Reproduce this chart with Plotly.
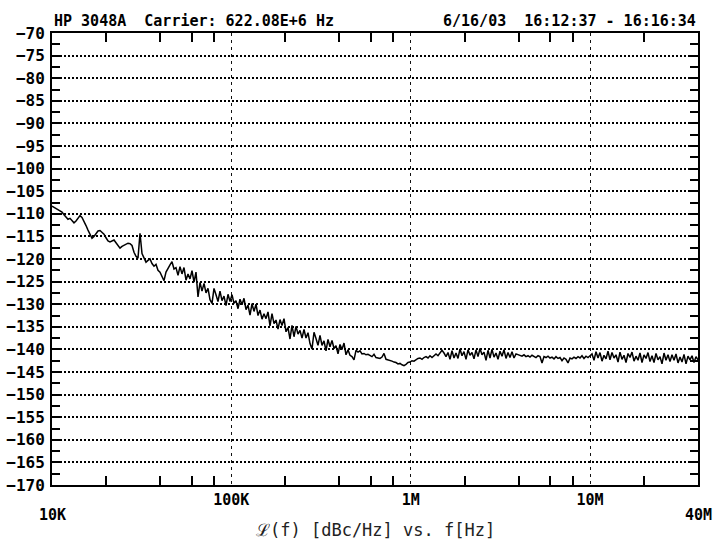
import numpy as np
import plotly.graph_objects as go

# Phase noise L(f) in dBc/Hz, log-spaced offsets 10 kHz .. 40 MHz
f_start_hz = 1e4
f_stop_hz = 4e7
noise_dbc = [
    -108.3, -108.6, -108.9, -109.0, -109.3, -109.6, -110.2, -110.8, -111.2, -111.0,
    -111.5, -112.0, -111.6, -111.0, -110.4, -110.8, -111.6, -112.6, -113.6, -114.4,
    -115.4, -115.0, -114.4, -113.8, -113.7, -114.0, -114.5, -115.3, -116.0, -116.2,
    -116.0, -115.8, -116.4, -117.1, -117.6, -117.2, -116.9, -116.7, -116.5, -116.6,
    -117.0, -118.5, -119.4, -119.8, -114.3, -118.8, -119.8, -120.7, -120.3, -120.0,
    -121.0, -121.6, -121.2, -122.5, -122.9, -124.0, -124.8, -122.9, -122.0, -121.3,
    -120.6, -122.2, -121.9, -123.6, -121.7, -123.3, -121.9, -124.7, -123.3, -124.4,
    -122.6, -125.1, -122.9, -128.4, -125.2, -127.1, -125.4, -127.5, -126.5, -129.0,
    -129.8, -126.5, -127.9, -129.4, -127.1, -129.2, -128.2, -130.3, -127.8, -129.4,
    -127.9, -129.8, -129.2, -131.0, -128.9, -130.1, -128.7, -131.2, -130.2, -132.4,
    -129.9, -131.6, -130.0, -132.5, -131.3, -133.3, -132.1, -133.2, -131.7, -134.8,
    -132.1, -134.3, -133.5, -135.5, -133.4, -134.7, -133.2, -136.1, -135.2, -137.7,
    -134.7, -137.2, -134.9, -136.6, -135.8, -137.5, -135.6, -137.5, -136.3, -138.7,
    -139.9, -136.2, -137.6, -139.1, -136.9, -139.1, -138.1, -140.3, -137.8, -139.4,
    -138.0, -139.8, -139.2, -141.0, -138.9, -140.0, -138.6, -141.2, -140.1, -141.3,
    -141.6, -142.3, -140.2, -140.6, -140.3, -141.0, -140.9, -141.2, -141.1, -141.4,
    -141.6, -141.1, -141.8, -141.9, -142.0, -141.7, -140.9, -142.2, -142.3, -142.5,
    -142.6, -142.8, -142.9, -143.2, -143.1, -143.4, -143.6, -143.3, -142.9, -142.8,
    -142.5, -142.6, -142.2, -142.0, -141.9, -142.2, -141.8, -141.6, -141.9, -141.4,
    -141.8, -141.3, -141.0, -141.4, -140.9, -140.2, -140.8, -141.6, -140.7, -142.2,
    -140.3, -141.9, -140.8, -142.0, -139.9, -141.4, -140.5, -142.2, -140.1, -141.3,
    -140.7, -142.1, -140.1, -141.6, -139.8, -141.2, -140.6, -142.4, -140.2, -141.9,
    -140.0, -141.7, -140.8, -142.2, -140.4, -141.5, -140.1, -142.0, -140.7, -141.8,
    -140.5, -141.9, -141.0, -141.2, -141.3, -141.5, -141.2, -141.6, -141.4, -141.7,
    -141.3, -141.5, -141.8, -141.4, -141.6, -143.0, -141.6, -141.8, -141.5, -141.9,
    -141.7, -142.1, -141.6, -142.0, -141.8, -142.5, -141.9, -142.2, -143.0, -141.9,
    -142.1, -141.7, -142.0, -141.6, -141.9, -141.4, -142.0, -141.5, -141.8, -141.4,
    -141.0, -142.4, -140.5, -141.9, -140.7, -142.6, -141.3, -142.1, -140.4, -142.3,
    -140.7, -141.9, -141.2, -142.8, -140.6, -142.2, -141.3, -142.9, -140.9, -141.8,
    -140.6, -142.6, -141.5, -142.4, -140.8, -142.9, -141.2, -142.0, -140.7, -142.7,
    -141.4, -142.9, -140.9, -142.3, -141.6, -143.2, -140.8, -142.4, -141.2, -142.7,
    -141.2, -142.4, -141.0, -143.0, -141.7, -142.8, -141.1, -143.2, -141.5, -142.3,
    -141.4, -142.9, -141.6, -142.3,
]

x_tick_vals = [1e5, 1e6, 1e7]
x_tick_text = ["100K", "1M", "10M"]
x_end_vals = [1e4, 4e7]
x_end_text = ["10K", "40M"]
x_minor_vals = [m * d for d in (1e4, 1e5, 1e6, 1e7) for m in (2, 4, 6, 8) if m * d < 4e7]
y_min, y_max, y_step = -170, -70, 5

title_left = "HP\u00a03048A\u00a0\u00a0Carrier:\u00a0622.08E+6\u00a0Hz"
title_right = "6/16/03\u00a0\u00a016:12:37\u00a0-\u00a016:16:34"
x_title = "\u2112(f)\u00a0[dBc/Hz]\u00a0vs.\u00a0f[Hz]"

freqs = np.logspace(np.log10(f_start_hz), np.log10(f_stop_hz), len(noise_dbc))

FONT = "DejaVu Sans Mono"
fig = go.Figure()
fig.add_trace(go.Scatter(x=freqs, y=noise_dbc, mode="lines",
                         line=dict(color="black", width=1.5), showlegend=False,
                         hoverinfo="skip"))

fig.update_layout(
    width=715, height=546,
    margin=dict(l=52, r=17, t=33, b=61),
    paper_bgcolor="white", plot_bgcolor="white",
    font=dict(family=FONT, color="black"),
)
fig.update_xaxes(
    type="log", range=[np.log10(f_start_hz), np.log10(f_stop_hz)],
    tickmode="array", tickvals=x_tick_vals, ticktext=x_tick_text,
    ticks="", tickfont=dict(size=15, family=FONT, weight="bold"),
    showgrid=True, gridcolor="#111", griddash="3px,4px", gridwidth=1.2,
    showline=True, linecolor="black", linewidth=2, mirror="allticks",
    minor=dict(tickmode="array", tickvals=x_minor_vals, ticks="inside",
               ticklen=9, tickwidth=1.5, tickcolor="black", showgrid=False),
    zeroline=False, automargin=False,
)
fig.update_yaxes(
    range=[y_min, y_max], tickmode="linear", tick0=y_min, dtick=y_step,
    ticks="inside", ticklen=8, tickwidth=1.5, tickcolor="black",
    tickfont=dict(size=16, family=FONT, weight="bold"),
    showgrid=True, gridcolor="black", griddash="2px,2px", gridwidth=1.5,
    showline=True, linecolor="black", linewidth=2, mirror="allticks",
    minor=dict(tick0=y_min, dtick=y_step / 2, ticks="inside", ticklen=8,
               tickwidth=1.5, tickcolor="black", showgrid=False),
    zeroline=False, ticklabelstandoff=2, automargin=False,
)

for v, t in zip(x_end_vals, x_end_text):
    fig.add_annotation(x=np.log10(v), xref="x", y=0, yref="paper", text=t,
                       showarrow=False, yanchor="top", yshift=-19,
                       font=dict(size=15, family=FONT, weight="bold"))
fig.add_annotation(x=0, xref="paper", y=1, yref="paper", text=title_left,
                   showarrow=False, xanchor="left", yanchor="bottom", yshift=1,
                   font=dict(size=15, family=FONT, weight="bold"))
fig.add_annotation(x=1, xref="paper", y=1, yref="paper", text=title_right,
                   showarrow=False, xanchor="right", yanchor="bottom", yshift=1,
                   font=dict(size=15, family=FONT, weight="bold"))
fig.add_annotation(x=0.5, xref="paper", y=0, yref="paper", text=x_title,
                   showarrow=False, yanchor="top", yshift=-33,
                   font=dict(size=17, family=FONT, color="#222"))

# remove the browser's default 8px page margin so the figure fills the window
fig.write_html("out.html", config={"displayModeBar": False},
               post_script="document.body.style.margin='0';document.body.style.overflow='hidden';")
